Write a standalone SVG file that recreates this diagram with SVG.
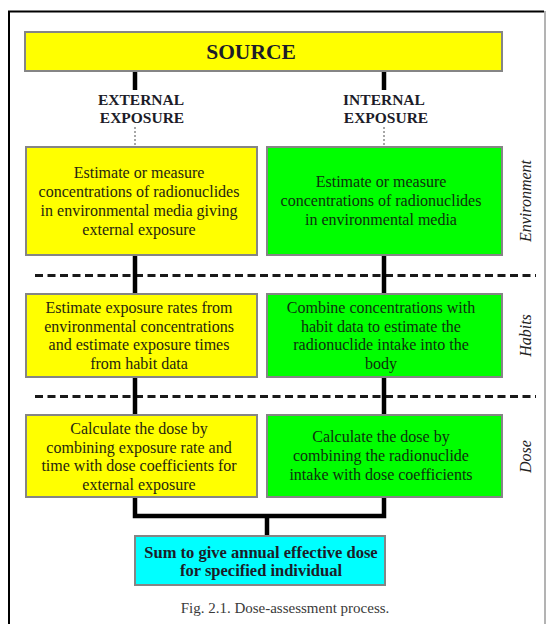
<svg xmlns="http://www.w3.org/2000/svg" width="547" height="624" viewBox="0 0 547 624">
<style>
  .box { stroke: #858585; stroke-width: 2; }
  .y { fill: #ffff00; }
  .g { fill: #00ff00; }
  .c { fill: #00ffff; }
  .t { font-family: "Liberation Serif", "Times New Roman", serif; font-size: 16px; text-anchor: middle; }
  .ty { fill: #262610; }
  .tg { fill: #0e300e; }
  .hd { font-family: "Liberation Serif", "Times New Roman", serif; font-weight: bold; text-anchor: middle; fill: #1c1c28; }
  .side { font-family: "Liberation Serif", "Times New Roman", serif; font-style: italic; font-size: 16px; text-anchor: middle; fill: #222; }
  .thick { stroke: #000; stroke-width: 4.5; fill: none; }
  .dot { stroke: #8a8a8a; stroke-width: 1.5; stroke-dasharray: 2 2; fill: none; }
  .dash { stroke: #1a1a1a; stroke-width: 3; stroke-dasharray: 8 4.5; fill: none; }
</style>
<rect x="0" y="0" width="547" height="624" fill="#ffffff"/>
<g id="frame">
  <path d="M9 624 V11.5 H544" stroke="#000" stroke-width="2" fill="none"/>
  <path d="M545 11 V624" stroke="#9a9a9a" stroke-width="1.5" fill="none"/>
</g>
<g id="layers">
  <line class="dash" x1="35" y1="275.5" x2="536" y2="275.5"/>
  <line class="dash" x1="35" y1="396.5" x2="536" y2="396.5"/>
  <text class="side" transform="translate(531 201) rotate(-90)">Environment</text>
  <text class="side" transform="translate(531 335.5) rotate(-90)">Habits</text>
  <text class="side" transform="translate(531 456.5) rotate(-90)">Dose</text>
</g>
<g id="connectors">
  <line class="thick" x1="135" y1="71" x2="135" y2="90"/>
  <line class="thick" x1="384" y1="71" x2="384" y2="90"/>
  <line class="dot" x1="135" y1="127" x2="135" y2="147"/>
  <line class="dot" x1="384" y1="127" x2="384" y2="147"/>
  <line class="thick" x1="135" y1="255" x2="135" y2="294"/>
  <line class="thick" x1="384" y1="255" x2="384" y2="294"/>
  <line class="thick" x1="135" y1="377" x2="135" y2="415"/>
  <line class="thick" x1="384" y1="377" x2="384" y2="415"/>
  <path class="thick" d="M135 497 V516 H384 V497" stroke-width="5"/>
  <line class="thick" x1="267" y1="516" x2="267" y2="536"/>
</g>
<g id="source">
  <rect class="box y" x="25" y="32" width="477" height="39"/>
  <text class="hd" x="251" y="59" font-size="21.5">SOURCE</text>
</g>
<g id="external-label">
  <text class="hd" x="141" y="104.5" font-size="15.5">EXTERNAL</text>
  <text class="hd" x="142" y="122.5" font-size="15.5">EXPOSURE</text>
</g>
<g id="internal-label">
  <text class="hd" x="384" y="104.5" font-size="15.5">INTERNAL</text>
  <text class="hd" x="386" y="122.5" font-size="15.5">EXPOSURE</text>
</g>
<g id="env-external">
  <rect class="box y" x="26" y="147" width="231" height="108"/>
  <text class="t ty" x="139" y="178">Estimate or measure</text>
  <text class="t ty" x="139" y="197">concentrations of radionuclides</text>
  <text class="t ty" x="139" y="216">in environmental media giving</text>
  <text class="t ty" x="139" y="235">external exposure</text>
</g>
<g id="env-internal">
  <rect class="box g" x="267" y="147" width="235" height="108"/>
  <text class="t tg" x="381" y="187">Estimate or measure</text>
  <text class="t tg" x="381" y="206">concentrations of radionuclides</text>
  <text class="t tg" x="381" y="225">in environmental media</text>
</g>
<g id="habits-external">
  <rect class="box y" x="26" y="294" width="231" height="83"/>
  <text class="t ty" x="139" y="313">Estimate exposure rates from</text>
  <text class="t ty" x="139" y="331.5">environmental concentrations</text>
  <text class="t ty" x="139" y="350">and estimate exposure times</text>
  <text class="t ty" x="139" y="368.5">from habit data</text>
</g>
<g id="habits-internal">
  <rect class="box g" x="267" y="294" width="235" height="83"/>
  <text class="t tg" x="381" y="313">Combine concentrations with</text>
  <text class="t tg" x="381" y="331.5">habit data to estimate the</text>
  <text class="t tg" x="381" y="350">radionuclide intake into the</text>
  <text class="t tg" x="381" y="368.5">body</text>
</g>
<g id="dose-external">
  <rect class="box y" x="26" y="415" width="231" height="82"/>
  <text class="t ty" x="139" y="434">Calculate the dose by</text>
  <text class="t ty" x="139" y="452.5">combining exposure rate and</text>
  <text class="t ty" x="139" y="471">time with dose coefficients for</text>
  <text class="t ty" x="139" y="489.5">external exposure</text>
</g>
<g id="dose-internal">
  <rect class="box g" x="267" y="415" width="235" height="82"/>
  <text class="t tg" x="381" y="442">Calculate the dose by</text>
  <text class="t tg" x="381" y="461">combining the radionuclide</text>
  <text class="t tg" x="381" y="480">intake with dose coefficients</text>
</g>
<g id="sum">
  <rect class="box c" x="135" y="536" width="250" height="49"/>
  <text class="hd" x="261" y="558" font-size="16.5" fill="#0c2428">Sum to give annual effective dose</text>
  <text class="hd" x="261" y="576" font-size="16.5" fill="#0c2428">for specified individual</text>
</g>
<g id="caption">
  <text x="285" y="613" font-family="'Liberation Serif', 'Times New Roman', serif" font-size="15" fill="#3a3a3a" text-anchor="middle">Fig. 2.1. Dose-assessment process.</text>
</g>
</svg>
